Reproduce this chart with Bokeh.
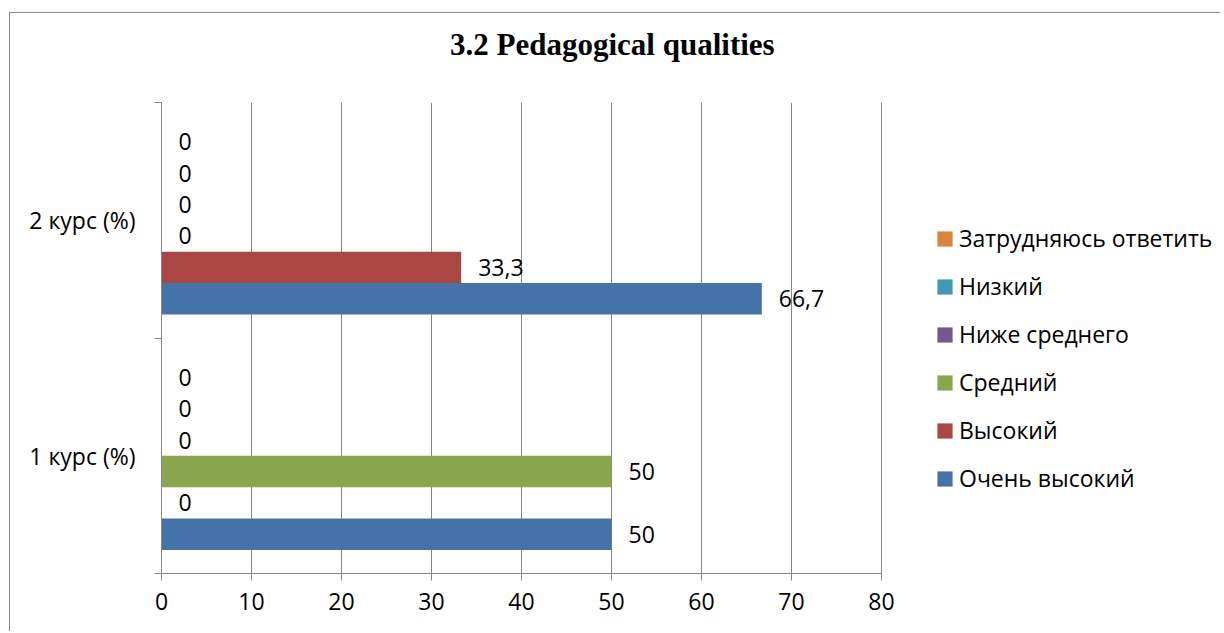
from bokeh.plotting import figure
from bokeh.layouts import column
from bokeh.models import (Range1d, LinearAxis, FixedTicker, Div,
                          ColumnDataSource, Legend, LegendItem)
from bokeh.transform import dodge
from bokeh.embed import file_html
from bokeh.resources import INLINE
from bokeh.core.properties import value

# ---- data ----
categories = ["1 курс (%)", "2 курс (%)"]
series_names = ["Очень высокий", "Высокий", "Средний", "Ниже среднего", "Низкий", "Затрудняюсь ответить"]
series_colors = ["#4572A7", "#AA4643", "#89A54E", "#71588F", "#4198AF", "#DB843D"]
very_high = [50, 66.7]
high = [0, 33.3]
medium = [50, 0]
below_medium = [0, 0]
low = [0, 0]
hard_to_say = [0, 0]
x_ticks = [0, 10, 20, 30, 40, 50, 60, 70, 80]
title_text = "3.2 Pedagogical qualities"

series_values = [very_high, high, medium, below_medium, low, hard_to_say]

FONT = "Open Sans"
FS = "23px"
GRAY = "#878787"


def fmt(v):
    return ("%g" % v).replace(".", ",")


ncat = len(categories)
cat_centers = [k + 0.5 for k in range(ncat)]
cat_bounds = list(range(ncat + 1))

TITLE_H = 60
FIG_W = 1210
BORDER_L = 151
AXIS_PX = 720  # pixel length of the 0..80 axis
frame_w = FIG_W - BORDER_L
x_end = x_ticks[-1] * frame_w / AXIS_PX  # frame extends right to hold the legend

title_div = Div(text=('<div style="font-family: \'Liberation Serif\'; font-weight: bold; '
                      'font-size: 31px; line-height: 31px; padding-top: 16px; '
                      'padding-left: 440px; color: black; white-space: nowrap;">'
                      + title_text + '</div>'),
                width=FIG_W, height=TITLE_H, margin=0)

p = figure(width=FIG_W, height=618 - TITLE_H,
           y_range=Range1d(0, ncat),
           x_range=Range1d(x_ticks[0], x_end),
           output_backend="svg", toolbar_location=None,
           y_axis_location=None,
           min_border_left=BORDER_L, min_border_right=0,
           min_border_top=89 - TITLE_H, min_border_bottom=58, margin=0)
p.outline_line_color = None
p.background_fill_color = "white"
p.border_fill_color = "white"

n = len(series_names)
bw = 1.0 / 7.5
renderers = []
for i, (name, vals, col) in enumerate(zip(series_names, series_values, series_colors)):
    src = ColumnDataSource(dict(pos=cat_centers, val=vals, label=[fmt(v) for v in vals]))
    off = (i - (n - 1) / 2) * bw
    r = p.hbar(y=dodge("pos", off), left=0, right="val", height=bw,
               fill_color=col, line_color=None, source=src)
    renderers.append(r)
    p.text(x="val", y=dodge("pos", off), text="label", source=src,
           x_offset=17, text_align="left", text_baseline="middle",
           text_font=value(FONT), text_font_size=FS, text_color="black")

# x axis (drawn only over 0..80)
xa = p.xaxis[0]
xa.ticker = FixedTicker(ticks=x_ticks)
xa.bounds = (x_ticks[0], x_ticks[-1])
xa.major_tick_out = 7
xa.major_tick_in = 0
xa.minor_tick_line_color = None
xa.axis_line_color = GRAY
xa.major_tick_line_color = GRAY
xa.major_label_text_font = FONT
xa.major_label_text_font_size = FS
xa.major_label_text_color = "black"
xa.major_label_standoff = 12

p.xgrid.ticker = FixedTicker(ticks=x_ticks)
p.xgrid.bounds = (0, ncat)
p.xgrid.grid_line_color = GRAY
p.ygrid.grid_line_color = None

# y axis: category labels at centres, boundary ticks as minor ticks
ya = LinearAxis(ticker=FixedTicker(ticks=cat_centers, minor_ticks=cat_bounds),
                major_label_overrides={c: lab for c, lab in zip(cat_centers, categories)},
                major_tick_line_color=None, major_tick_out=0, major_tick_in=0,
                minor_tick_line_color=GRAY, minor_tick_out=7, minor_tick_in=0,
                axis_line_color=GRAY,
                major_label_standoff=19,
                major_label_text_font=FONT, major_label_text_font_size=FS,
                major_label_text_color="black")
p.add_layout(ya, "left")

legend = Legend(items=[LegendItem(label=series_names[i], renderers=[renderers[i]])
                       for i in reversed(range(n))],
                location=(774, 79), glyph_width=19, glyph_height=19,
                label_text_font=FONT, label_text_font_size=FS, label_text_color="black",
                label_standoff=5, spacing=16, padding=0, margin=0,
                border_line_color=None, background_fill_alpha=0)
p.add_layout(legend, "center")

layout = column(title_div, p, spacing=0,
                styles={"border-top": "1px solid #8a8a8a", "border-left": "1px solid #8a8a8a",
                        "margin-top": "12px", "margin-left": "9px"})

open("out.html", "w").write(file_html(layout, INLINE))
